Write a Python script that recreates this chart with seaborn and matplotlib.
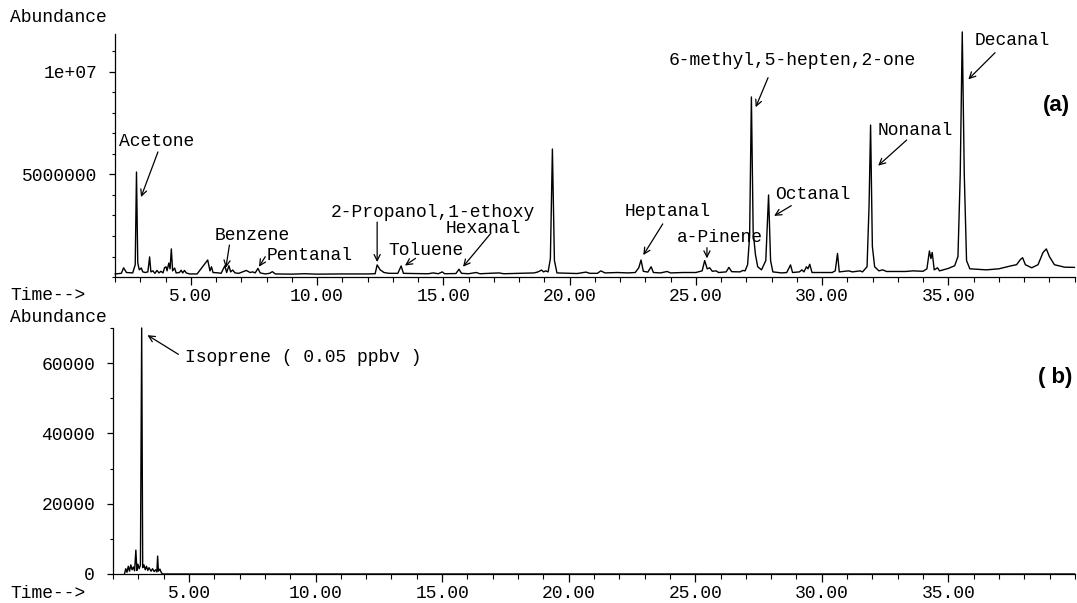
import matplotlib
matplotlib.use("Agg")
import matplotlib.pyplot as plt
from matplotlib.ticker import MultipleLocator, FixedLocator
import seaborn as sns
import pandas as pd

# ---------------- data ----------------
# (a) chromatogram trace: retention time (min) and abundance (counts)
trace_a_time = [
    2.00, 2.25, 2.34, 2.45, 2.70, 2.80, 2.85, 2.90, 2.96, 3.04, 3.10, 3.20, 3.30, 3.37, 3.42,
    3.50, 3.58, 3.66, 3.74, 3.82, 3.90, 3.96, 4.02, 4.06, 4.13, 4.18, 4.23, 4.28, 4.36, 4.42,
    4.55, 4.62, 4.68, 4.75, 4.82, 4.95, 5.25, 5.67, 5.76, 5.82, 5.88, 6.10, 6.20, 6.35, 6.42,
    6.51, 6.58, 6.66, 6.75, 6.90, 7.05, 7.20, 7.35, 7.45, 7.55, 7.66, 7.75, 7.95, 8.12, 8.23,
    8.35, 9.00, 9.50, 10.00, 11.00, 12.00, 12.30, 12.38, 12.50, 12.65, 12.85, 13.20, 13.33,
    13.42, 13.80, 14.40, 14.60, 14.80, 14.96, 15.05, 15.50, 15.62, 15.72, 16.00, 16.30, 16.45,
    17.20, 17.40, 18.00, 18.60, 18.75, 18.89, 18.97, 19.05, 19.15, 19.24, 19.32, 19.40, 19.50,
    20.30, 20.65, 20.80, 21.10, 21.24, 21.40, 21.90, 22.30, 22.60, 22.74, 22.83, 22.92, 23.10,
    23.23, 23.32, 23.60, 23.86, 24.00, 24.50, 25.00, 25.25, 25.35, 25.45, 25.55, 25.65, 25.80,
    25.90, 26.20, 26.31, 26.42, 26.75, 26.86, 26.95, 27.05, 27.13, 27.20, 27.27, 27.36, 27.45,
    27.60, 27.77, 27.88, 27.96, 28.05, 28.40, 28.60, 28.75, 28.83, 29.10, 29.20, 29.28, 29.38,
    29.44, 29.51, 29.60, 30.00, 30.40, 30.52, 30.61, 30.68, 31.05, 31.20, 31.50, 31.60, 31.78,
    31.86, 31.92, 31.99, 32.08, 32.25, 32.40, 32.55, 33.30, 33.60, 34.00, 34.15, 34.25, 34.31,
    34.36, 34.44, 34.57, 34.65, 35.00, 35.25, 35.38, 35.47, 35.55, 35.63, 35.72, 35.85, 36.50,
    37.00, 37.50, 37.70, 37.85, 37.94, 38.05, 38.30, 38.55, 38.75, 38.88, 39.00, 39.20, 39.60,
    40.00,
]
trace_a_abund = [
    0.15e6, 0.18e6, 0.45e6, 0.22e6, 0.20e6, 0.60e6, 5.12e6, 0.70e6, 0.35e6, 0.44e6, 0.25e6,
    0.22e6, 0.25e6, 0.98e6, 0.25e6, 0.30e6, 0.18e6, 0.32e6, 0.20e6, 0.28e6, 0.20e6, 0.45e6,
    0.50e6, 0.30e6, 0.68e6, 0.40e6, 1.37e6, 0.30e6, 0.44e6, 0.20e6, 0.22e6, 0.33e6, 0.20e6,
    0.32e6, 0.20e6, 0.15e6, 0.15e6, 0.83e6, 0.30e6, 0.50e6, 0.22e6, 0.20e6, 0.18e6, 0.55e6,
    0.22e6, 0.55e6, 0.25e6, 0.34e6, 0.20e6, 0.18e6, 0.25e6, 0.32e6, 0.22e6, 0.25e6, 0.20e6,
    0.42e6, 0.20e6, 0.15e6, 0.18e6, 0.26e6, 0.15e6, 0.14e6, 0.16e6, 0.14e6, 0.15e6, 0.15e6,
    0.16e6, 0.59e6, 0.35e6, 0.22e6, 0.18e6, 0.18e6, 0.54e6, 0.18e6, 0.17e6, 0.16e6, 0.20e6,
    0.16e6, 0.25e6, 0.16e6, 0.17e6, 0.38e6, 0.18e6, 0.16e6, 0.22e6, 0.16e6, 0.20e6, 0.16e6,
    0.18e6, 0.20e6, 0.25e6, 0.34e6, 0.25e6, 0.30e6, 0.25e6, 0.90e6, 6.24e6, 0.80e6, 0.20e6,
    0.17e6, 0.24e6, 0.18e6, 0.18e6, 0.30e6, 0.20e6, 0.22e6, 0.20e6, 0.22e6, 0.45e6, 0.83e6,
    0.28e6, 0.24e6, 0.50e6, 0.22e6, 0.20e6, 0.27e6, 0.20e6, 0.22e6, 0.22e6, 0.30e6, 0.80e6,
    0.40e6, 0.45e6, 0.28e6, 0.30e6, 0.22e6, 0.25e6, 0.47e6, 0.26e6, 0.25e6, 0.32e6, 0.30e6,
    0.60e6, 2.00e6, 8.78e6, 2.20e6, 1.10e6, 0.50e6, 0.35e6, 0.80e6, 4.00e6, 0.80e6, 0.25e6,
    0.20e6, 0.22e6, 0.59e6, 0.22e6, 0.25e6, 0.35e6, 0.25e6, 0.50e6, 0.40e6, 0.62e6, 0.22e6,
    0.22e6, 0.22e6, 0.30e6, 1.15e6, 0.25e6, 0.30e6, 0.25e6, 0.30e6, 0.25e6, 0.50e6, 3.50e6,
    7.41e6, 1.50e6, 0.50e6, 0.30e6, 0.35e6, 0.27e6, 0.27e6, 0.30e6, 0.28e6, 0.40e6, 1.27e6,
    0.90e6, 1.20e6, 0.35e6, 0.45e6, 0.30e6, 0.42e6, 0.55e6, 1.00e6, 5.00e6, 11.95e6, 5.00e6,
    0.80e6, 0.40e6, 0.35e6, 0.40e6, 0.55e6, 0.60e6, 0.85e6, 0.94e6, 0.60e6, 0.45e6, 0.60e6,
    1.20e6, 1.37e6, 1.00e6, 0.60e6, 0.48e6, 0.47e6,
]

# (b) isoprene trace
trace_b_time = [
    2.45, 2.50, 2.55, 2.60, 2.65, 2.70, 2.75, 2.80, 2.85, 2.90, 2.94, 2.98, 3.03, 3.08, 3.13,
    3.17, 3.22, 3.27, 3.32, 3.37, 3.42, 3.50, 3.56, 3.62, 3.68, 3.73, 3.76, 3.79, 3.85, 3.90,
    3.95, 40.00,
]
trace_b_abund = [
    0, 1500, 500, 2200, 800, 2600, 1200, 2000, 900, 6800, 1000, 2800, 1500, 2500, 70000,
    1800, 2600, 1200, 2200, 1000, 1800, 800, 1500, 700, 1200, 600, 5100, 800, 1400, 500,
    0, 0,
]

# peak labels in (a): name, arrow head, arrow tail, text anchor (left-centre)
labels_a = ["Acetone", "Benzene", "Pentanal", "2-Propanol,1-ethoxy", "Toluene", "Hexanal",
            "Heptanal", "a-Pinene", "6-methyl,5-hepten,2-one", "Octanal", "Nonanal", "Decanal"]
label_a_xy = [(3.03, 3.90e6), (6.39, 0.45e6), (7.70, 0.50e6), (12.38, 0.73e6), (13.48, 0.56e6),
              (15.78, 0.50e6), (22.92, 1.07e6), (25.44, 0.91e6), (27.37, 8.28e6), (28.10, 2.98e6),
              (32.22, 5.43e6), (35.79, 9.64e6)]
label_a_tail = [(3.70, 6.10e6), (6.53, 1.56e6), (7.95, 0.99e6), (12.38, 2.68e6), (13.90, 0.91e6),
                (16.88, 2.13e6), (23.69, 2.59e6), (25.44, 1.43e6), (27.86, 9.72e6), (28.78, 3.48e6),
                (33.35, 6.68e6), (36.85, 10.94e6)]
label_a_text = [(2.15, 6.59e6), (5.96, 2.01e6), (8.02, 1.07e6), (10.53, 3.16e6), (12.84, 1.28e6),
                (15.09, 2.37e6), (22.17, 3.19e6), (24.26, 1.94e6), (23.94, 10.54e6), (28.15, 4.03e6),
                (32.18, 7.14e6), (36.03, 11.51e6)]

label_b = "Isoprene ( 0.05 ppbv )"
label_b_xy = (3.36, 67950)
label_b_tail = (4.58, 62500)
label_b_text = (4.84, 61600)

x_major = [5, 10, 15, 20, 25, 30, 35]
x_ticklabels = ["5.00", "10.00", "15.00", "20.00", "25.00", "30.00", "35.00"]
ya_ticks = [5e6, 1e7]
ya_ticklabels = ["5000000", "1e+07"]
yb_ticks = [0, 20000, 40000, 60000]
yb_ticklabels = ["0", "20000", "40000", "60000"]

# ---------------- style ----------------
sns.set_theme(style="ticks")
MONO = ["Liberation Mono", "DejaVu Sans Mono"]
plt.rcParams.update({
    "font.family": MONO,
    "font.size": 13,
    "axes.linewidth": 0.9,
    "axes.edgecolor": "black",
    "text.color": "black",
    "axes.labelcolor": "black",
    "xtick.color": "black",
    "ytick.color": "black",
})

fig = plt.figure(figsize=(10.77, 6.03), dpi=100)
ax_a = fig.add_axes([0.1068, 0.5406, 0.891, 0.403])
ax_b = fig.add_axes([0.1050, 0.0481, 0.893, 0.408])

df_a = pd.DataFrame({"time": trace_a_time, "abundance": trace_a_abund})
df_b = pd.DataFrame({"time": trace_b_time, "abundance": trace_b_abund})

sns.lineplot(data=df_a, x="time", y="abundance", ax=ax_a, color="black", lw=1.0,
             estimator=None, sort=False, clip_on=False)
sns.lineplot(data=df_b, x="time", y="abundance", ax=ax_b, color="black", lw=1.0,
             estimator=None, sort=False, clip_on=False)


def style_axis(ax, ymax, yticks, yticklabels, yminor):
    ax.set_xlim(2.0, 40.0)
    ax.set_ylim(0, ymax)
    sns.despine(ax=ax)
    ax.set_xlabel("")
    ax.set_ylabel("")
    ax.xaxis.set_major_locator(FixedLocator(x_major))
    ax.set_xticklabels(x_ticklabels)
    ax.xaxis.set_minor_locator(MultipleLocator(1))
    ax.yaxis.set_major_locator(FixedLocator(yticks))
    ax.set_yticklabels(yticklabels)
    ax.yaxis.set_minor_locator(MultipleLocator(yminor))
    ax.tick_params(axis="x", which="major", length=6, width=0.9, pad=2, labelsize=13)
    ax.tick_params(axis="x", which="minor", length=3.5, width=0.8)
    ax.tick_params(axis="y", which="major", length=4, width=0.9, pad=9, labelsize=13)
    ax.tick_params(axis="y", which="minor", length=2.5, width=0.8)
    for t in ax.get_xticklabels() + ax.get_yticklabels():
        t.set_family(MONO)


style_axis(ax_a, 1.185e7, ya_ticks, ya_ticklabels, 1e6)
style_axis(ax_b, 70000, yb_ticks, yb_ticklabels, 10000)

arrow = dict(arrowstyle="->", lw=0.9, color="black", shrinkA=0, shrinkB=0,
             mutation_scale=11)

for name, xy, tail, txt in zip(labels_a, label_a_xy, label_a_tail, label_a_text):
    ax_a.annotate("", xy=xy, xytext=tail, arrowprops=arrow, annotation_clip=False)
    ax_a.text(txt[0], txt[1], name, ha="left", va="center", fontsize=13, family=MONO)

ax_b.annotate("", xy=label_b_xy, xytext=label_b_tail, arrowprops=arrow, annotation_clip=False)
ax_b.text(label_b_text[0], label_b_text[1], label_b, ha="left", va="center", fontsize=13,
          family=MONO)

# panel tags and axis captions
fig.text(1070 / 1077, 1 - 105 / 603, "(a)", ha="right", va="center", fontsize=16,
         fontweight="bold", family=["Liberation Sans", "DejaVu Sans"])
fig.text(1072 / 1077, 1 - 377 / 603, "( b)", ha="right", va="center", fontsize=16,
         fontweight="bold", family=["Liberation Sans", "DejaVu Sans"])
fig.text(10 / 1077, 1 - 18 / 603, "Abundance", ha="left", va="center", fontsize=13, family=MONO)
fig.text(10 / 1077, 1 - 317 / 603, "Abundance", ha="left", va="center", fontsize=13, family=MONO)
fig.text(10 / 1077, 1 - 296 / 603, "Time-->", ha="left", va="center", fontsize=13, family=MONO)
fig.text(10 / 1077, 1 - 593 / 603, "Time-->", ha="left", va="center", fontsize=13, family=MONO)

fig.savefig("out.png", dpi=100, facecolor="white")
